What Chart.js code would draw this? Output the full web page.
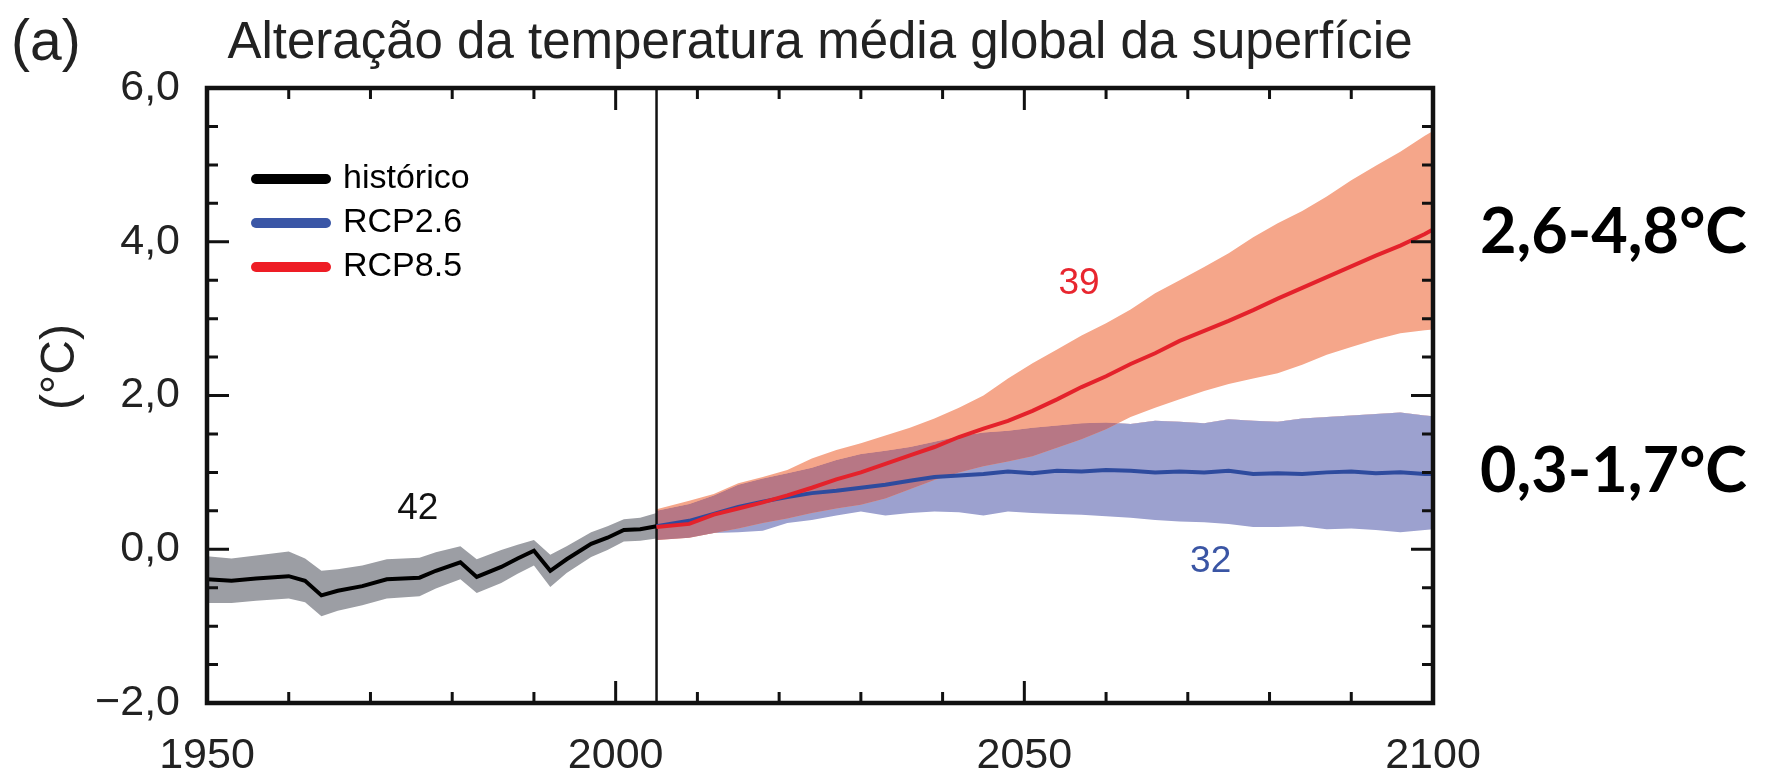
<!DOCTYPE html>
<html lang="pt">
<head>
    <meta charset="UTF-8">
    <title>Alteração da temperatura média global da superfície</title>
    <style>
        html, body {
            margin: 0;
            padding: 0;
            background: #fff;
        }
        #wrap {
            width: 1775px;
            height: 779px;
        }
    </style>
</head>
<body>
    <div id="wrap"><canvas id="chart" width="1775" height="779"></canvas></div>

    <script src="https://cdn.jsdelivr.net/npm/chart.js"></script>
    <script>
        // --- data ---
        const histYears = [1950, 1953, 1956, 1960, 1962, 1964, 1966, 1969, 1972, 1976, 1978, 1981, 1983, 1986, 1988, 1990, 1992, 1994, 1997, 1999, 2001, 2003, 2005];
        const histMean  = [-0.39, -0.41, -0.38, -0.35, -0.41, -0.60, -0.54, -0.48, -0.39, -0.37, -0.28, -0.17, -0.36, -0.23, -0.12, -0.02, -0.28, -0.13, 0.07, 0.15, 0.25, 0.26, 0.30];
        const histUpper = [-0.09, -0.12, -0.08, -0.03, -0.12, -0.28, -0.26, -0.21, -0.13, -0.11, -0.04, 0.04, -0.13, -0.01, 0.06, 0.12, -0.07, 0.04, 0.22, 0.30, 0.39, 0.41, 0.47];
        const histLower = [-0.70, -0.70, -0.67, -0.64, -0.69, -0.87, -0.80, -0.73, -0.64, -0.61, -0.51, -0.39, -0.57, -0.44, -0.32, -0.21, -0.49, -0.31, -0.10, -0.01, 0.10, 0.11, 0.14];

        const projYears = [2005, 2009, 2012, 2015, 2018, 2021, 2024, 2027, 2030, 2033, 2036, 2039, 2042, 2045, 2048, 2051, 2054, 2057, 2060, 2063, 2066, 2069, 2072, 2075, 2078, 2081, 2084, 2087, 2090, 2093, 2096, 2099, 2100];
        const rcp85Mean  = [0.29, 0.33, 0.45, 0.53, 0.61, 0.70, 0.80, 0.91, 1.00, 1.11, 1.22, 1.33, 1.46, 1.57, 1.67, 1.80, 1.95, 2.11, 2.25, 2.41, 2.55, 2.71, 2.84, 2.97, 3.11, 3.26, 3.40, 3.54, 3.68, 3.82, 3.95, 4.10, 4.16];
        const rcp85Upper = [0.52, 0.63, 0.72, 0.86, 0.94, 1.03, 1.18, 1.29, 1.38, 1.48, 1.58, 1.70, 1.84, 2.00, 2.22, 2.42, 2.60, 2.78, 2.94, 3.12, 3.33, 3.50, 3.67, 3.85, 4.06, 4.24, 4.40, 4.59, 4.80, 4.99, 5.17, 5.38, 5.44];
        const rcp85Lower = [0.12, 0.15, 0.21, 0.27, 0.34, 0.40, 0.47, 0.53, 0.58, 0.66, 0.78, 0.90, 1.00, 1.08, 1.14, 1.21, 1.32, 1.43, 1.56, 1.72, 1.84, 1.95, 2.06, 2.15, 2.22, 2.29, 2.40, 2.53, 2.63, 2.73, 2.81, 2.85, 2.86];
        const rcp26Mean  = [0.30, 0.37, 0.46, 0.55, 0.62, 0.68, 0.73, 0.76, 0.80, 0.84, 0.89, 0.94, 0.96, 0.98, 1.01, 0.99, 1.02, 1.01, 1.03, 1.02, 1.00, 1.01, 1.00, 1.02, 0.98, 0.99, 0.98, 1.00, 1.01, 0.99, 1.00, 0.98, 0.98];
        const rcp26Upper = [0.50, 0.59, 0.70, 0.84, 0.92, 0.99, 1.06, 1.16, 1.24, 1.28, 1.33, 1.40, 1.47, 1.52, 1.54, 1.58, 1.61, 1.64, 1.65, 1.63, 1.67, 1.66, 1.64, 1.69, 1.67, 1.66, 1.70, 1.72, 1.74, 1.76, 1.78, 1.74, 1.73];
        const rcp26Lower = [0.13, 0.16, 0.21, 0.22, 0.24, 0.34, 0.38, 0.44, 0.49, 0.44, 0.47, 0.49, 0.48, 0.44, 0.49, 0.47, 0.46, 0.45, 0.43, 0.41, 0.38, 0.36, 0.35, 0.33, 0.29, 0.29, 0.30, 0.26, 0.27, 0.25, 0.22, 0.25, 0.26];

        const dividerYear = 2005;
        const yRange = [-2, 6];
        const xRange = [1950, 2100];

        const legendLabels = ['histórico', 'RCP2.6', 'RCP8.5'];
        const modelCounts = ['42', '39', '32'];
        const modelCountYears = [1975.8, 2056.7, 2072.8];
        const modelCountValues = [0.52, 3.45, -0.16];
        const rangeLabels = ['2,6-4,8°C', '0,3-1,7°C'];
        const rangeLabelValues = [3.85, 0.74];

        // --- colours ---
        const RED = '#e4222b';
        const BLUE = '#2e4b9e';
        const SALMON = '#f5a68a';
        const LILAC = '#9ca1cf';
        const OVERLAP = '#b77785';
        const GREY = '#9c9ea4';
        const NONE = 'rgba(0,0,0,0)';
        const legendColors = ['#000000', '#3a56a6', '#ee1d25'];
        const countColors = ['#111111', '#e8262f', '#3a55a4'];

        const pts = (xs, ys) => xs.map((x, i) => ({x: x, y: ys[i]}));
        const band = (data, extra) => Object.assign({data: data, borderColor: NONE, borderWidth: 0}, extra);

        const datasets = [
            {label: 'RCP8.5', data: pts(projYears, rcp85Mean), borderColor: RED, borderWidth: 4},            // 0
            {label: 'RCP2.6', data: pts(projYears, rcp26Mean), borderColor: BLUE, borderWidth: 4},           // 1
            {label: 'histórico', data: pts(histYears, histMean), borderColor: '#000', borderWidth: 4},       // 2
            {label: 'divisor', data: pts([dividerYear, dividerYear], yRange), borderColor: '#111', borderWidth: 2.5}, // 3
            band(pts(projYears, rcp85Lower), {fill: {target: 6, above: NONE, below: OVERLAP}}),              // 4
            band(pts(projYears, rcp85Upper), {fill: 4, backgroundColor: SALMON}),                            // 5
            band(pts(projYears, rcp26Upper), {fill: 7, backgroundColor: LILAC}),                             // 6
            band(pts(projYears, rcp26Lower), {fill: false}),                                                  // 7
            band(pts(histYears, histUpper), {fill: 9, backgroundColor: GREY}),                               // 8
            band(pts(histYears, histLower), {fill: false})                                                    // 9
        ];

        const fmtY = v => (v < 0 ? '\u2212' : '') + Math.abs(v).toFixed(1).replace('.', ',');

        const decorations = {
            id: 'decorations',
            afterLayout(chart) {
                const lg = chart.legend;
                const a = chart.chartArea;
                if (!lg) return;
                lg.left = a.left + 39;
                lg.top = a.top + 64;
                lg.right = lg.left + 400;
                lg.bottom = a.bottom;
                lg.width = 400;
                lg.height = lg.bottom - lg.top;
            },
            afterDraw(chart) {
                const {ctx, chartArea: a, scales: {x, y}} = chart;
                ctx.save();
                ctx.strokeStyle = '#111';
                ctx.lineCap = 'butt';

                // inward ticks on all four sides
                ctx.lineWidth = 3;
                ctx.beginPath();
                for (let yr = xRange[0]; yr <= xRange[1]; yr += 10) {
                    const px = x.getPixelForValue(yr);
                    const len = yr % 50 === 0 ? 22 : 11;
                    ctx.moveTo(px, a.bottom); ctx.lineTo(px, a.bottom - len);
                    ctx.moveTo(px, a.top); ctx.lineTo(px, a.top + len);
                }
                for (let v = yRange[0]; v <= yRange[1]; v += 0.5) {
                    const py = y.getPixelForValue(v);
                    const len = v % 2 === 0 ? 22 : 11;
                    ctx.moveTo(a.left, py); ctx.lineTo(a.left + len, py);
                    ctx.moveTo(a.right, py); ctx.lineTo(a.right - len, py);
                }
                ctx.stroke();

                ctx.lineWidth = 4.5;
                ctx.strokeRect(a.left, a.top, a.right - a.left, a.bottom - a.top);

                // panel letter
                ctx.fillStyle = '#222';
                ctx.font = "57px 'Liberation Sans', Arial, sans-serif";
                ctx.textAlign = 'left';
                ctx.textBaseline = 'alphabetic';
                ctx.fillText('(a)', 11, 60);

                // y axis title
                ctx.save();
                ctx.translate(61, 367);
                ctx.rotate(-Math.PI / 2);
                ctx.textAlign = 'center';
                ctx.textBaseline = 'middle';
                ctx.font = "48px 'Liberation Sans', Arial, sans-serif";
                ctx.fillText('(°C)', 0, 0);
                ctx.restore();

                // model counts
                ctx.font = "37px 'Liberation Sans', Arial, sans-serif";
                ctx.textAlign = 'center';
                ctx.textBaseline = 'middle';
                modelCounts.forEach((t, i) => {
                    ctx.fillStyle = countColors[i];
                    ctx.fillText(t, x.getPixelForValue(modelCountYears[i]), y.getPixelForValue(modelCountValues[i]));
                });

                // warming ranges at 2100
                ctx.fillStyle = '#000';
                ctx.font = "bold 63px Lato, 'Open Sans', sans-serif";
                ctx.textAlign = 'left';
                ctx.textBaseline = 'alphabetic';
                rangeLabels.forEach((t, i) => {
                    ctx.fillText(t, a.right + 47, y.getPixelForValue(rangeLabelValues[i]));
                });
                ctx.restore();
            }
        };

        Chart.defaults.font.family = "'Liberation Sans', Arial, sans-serif";
        Chart.defaults.color = '#222';

        new Chart(document.getElementById('chart').getContext('2d'), {
            type: 'line',
            data: {datasets: datasets},
            options: {
                responsive: false,
                animation: false,
                devicePixelRatio: 1,
                layout: {padding: {left: 0, right: 342, top: 0, bottom: 0}},
                elements: {
                    point: {radius: 0, hoverRadius: 0},
                    line: {tension: 0, fill: false}
                },
                plugins: {
                    title: {
                        display: true,
                        text: 'Alteração da temperatura média global da superfície',
                        fullSize: false,
                        color: '#222',
                        font: {size: 51, weight: 'normal'},
                        padding: {top: 13, bottom: 13.8}
                    },
                    legend: {
                        position: 'chartArea',
                        align: 'start',
                        labels: {
                            usePointStyle: true,
                            pointStyle: 'line',
                            pointStyleWidth: 70,
                            padding: 10,
                            color: '#222',
                            font: {size: 34},
                            generateLabels: () => legendLabels.map((t, i) => ({
                                text: t,
                                strokeStyle: legendColors[i],
                                fillStyle: legendColors[i],
                                lineWidth: 10,
                                lineCap: 'round',
                                pointStyle: 'line',
                                hidden: false,
                                datasetIndex: 2 - i
                            }))
                        }
                    },
                    tooltip: {enabled: false}
                },
                scales: {
                    x: {
                        type: 'linear',
                        min: xRange[0],
                        max: xRange[1],
                        afterFit: s => { s.height = 76; },
                        grid: {display: false, drawTicks: false},
                        border: {display: false},
                        ticks: {
                            stepSize: 50,
                            autoSkip: false,
                            maxRotation: 0,
                            padding: 27,
                            color: '#222',
                            font: {size: 43},
                            callback: v => String(v)
                        }
                    },
                    y: {
                        type: 'linear',
                        min: yRange[0],
                        max: yRange[1],
                        afterFit: s => { s.width = 207; },
                        grid: {display: false, drawTicks: false},
                        border: {display: false},
                        ticks: {
                            stepSize: 2,
                            padding: 27,
                            color: '#222',
                            font: {size: 43},
                            callback: v => fmtY(v)
                        }
                    }
                }
            },
            plugins: [decorations]
        });
    </script>
</body>
</html>
